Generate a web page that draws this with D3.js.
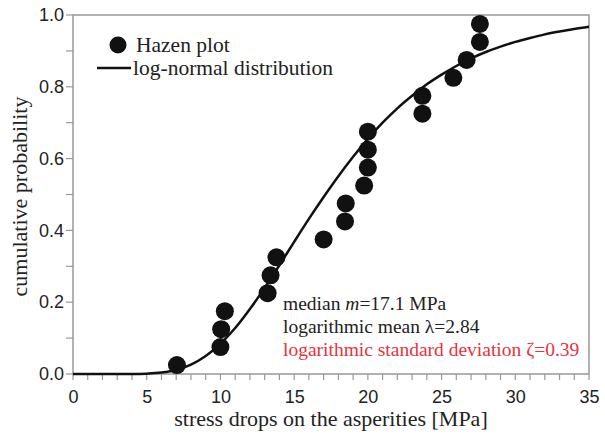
<!DOCTYPE html>
<meta charset="utf-8">
<style>
body { margin: 0; background: #fff; }
.tick text { font: 18px "Liberation Sans", Arial, sans-serif; fill: #222; }
.serif { font-family: "Liberation Serif", "Times New Roman", serif; fill: #222; }
</style>
<svg class="chart" width="605" height="435"></svg>
<script src="https://cdn.jsdelivr.net/npm/d3@7"></script>
<script>

// Hazen plot points (stress drop in MPa, plotting position)
var hazenStress = [7.05, 10.0, 10.05, 10.3, 13.2, 13.4, 13.8, 17.0, 18.45, 18.5,
                   19.75, 20.0, 20.0, 20.0, 23.7, 23.7, 25.8, 26.7, 27.6, 27.6]
var hazenProb = [0.025, 0.075, 0.125, 0.175, 0.225, 0.275, 0.325, 0.375, 0.425, 0.475,
                 0.525, 0.575, 0.625, 0.675, 0.725, 0.775, 0.825, 0.875, 0.925, 0.975]

// log-normal curve
var curveStress = [0, 4, 5, 6, 7, 8, 9, 10, 11, 12, 13, 14, 15, 16, 17, 18, 19, 20,
                   21, 22, 23, 24, 25, 26, 27, 28, 29, 30, 31, 32, 33, 34, 35]
var curveProb = [0, 0, 0.001, 0.004, 0.011, 0.026, 0.05, 0.084, 0.128, 0.181, 0.24,
                 0.303, 0.368, 0.432, 0.493, 0.551, 0.605, 0.655, 0.7, 0.74, 0.775,
                 0.807, 0.834, 0.858, 0.879, 0.897, 0.912, 0.925, 0.936, 0.946,
                 0.954, 0.961, 0.967]

var xTicks = [0, 5, 10, 15, 20, 25, 30, 35]
var yTicks = [0, 0.2, 0.4, 0.6, 0.8, 1.0]

var notes = ["median ", "logarithmic mean \u03bb=2.84", "logarithmic standard deviation \u03b6=0.39"]

var margin = {left: 73, right: 16, top: 15, bottom: 61},
    width = 605 - margin.left - margin.right,
    height = 435 - margin.top - margin.bottom

var chart = d3.select(".chart")
var g = chart.append("g")
    .attr("transform", "translate(" + margin.left + "," + margin.top + ")")

var x = d3.scaleLinear().domain([0, 35]).range([0, width])
var y = d3.scaleLinear().domain([0, 1]).range([height, 0])

// frame
g.append("rect")
    .attr("width", width)
    .attr("height", height)
    .style("fill", "none")
    .style("stroke", "#999")
    .style("stroke-width", 1.5)

// minor ticks
g.selectAll(".xminor")
    .data(d3.range(0, 36))
  .enter().append("line")
    .attr("x1", function(d) { return x(d) })
    .attr("x2", function(d) { return x(d) })
    .attr("y1", height)
    .attr("y2", height + 6)
    .style("stroke", "#999")
    .style("stroke-width", 1.2)

g.selectAll(".yminor")
    .data(d3.range(0, 11).map(function(i) { return i / 10 }))
  .enter().append("line")
    .attr("x1", -7)
    .attr("x2", 0)
    .attr("y1", function(d) { return y(d) })
    .attr("y2", function(d) { return y(d) })
    .style("stroke", "#999")
    .style("stroke-width", 1.2)

var xAxis = g.append("g")
    .attr("transform", "translate(0," + height + ")")
    .call(d3.axisBottom(x).tickValues(xTicks).tickSize(0).tickPadding(16).tickFormat(d3.format("d")))
xAxis.select(".domain").remove()

var yAxis = g.append("g")
    .call(d3.axisLeft(y).tickValues(yTicks).tickSize(0).tickPadding(9).tickFormat(d3.format(".1f")))
yAxis.select(".domain").remove()

// curve
var line = d3.line()
    .x(function(d) { return x(d[0]) })
    .y(function(d) { return y(d[1]) })
    .curve(d3.curveMonotoneX)

g.append("path")
    .datum(d3.zip(curveStress, curveProb))
    .attr("d", line)
    .style("fill", "none")
    .style("stroke", "#111")
    .style("stroke-width", 2.5)

// points
g.selectAll(".dot")
    .data(d3.zip(hazenStress, hazenProb))
  .enter().append("circle")
    .attr("cx", function(d) { return x(d[0]) })
    .attr("cy", function(d) { return y(d[1]) })
    .attr("r", 9)
    .style("fill", "#111")

// legend
chart.append("circle")
    .attr("cx", 118).attr("cy", 45).attr("r", 8.5)
    .style("fill", "#111")
chart.append("text").attr("class", "serif")
    .attr("x", 136).attr("y", 52)
    .style("font-size", "21.5px")
    .text("Hazen plot")
chart.append("line")
    .attr("x1", 97).attr("x2", 131).attr("y1", 68).attr("y2", 68)
    .style("stroke", "#111").style("stroke-width", 2.5)
chart.append("text").attr("class", "serif")
    .attr("x", 133).attr("y", 75)
    .style("font-size", "21.5px")
    .text("log-normal distribution")

// annotation
var n1 = chart.append("text").attr("class", "serif")
    .attr("x", 283).attr("y", 310).style("font-size", "19.5px")
n1.append("tspan").text(notes[0])
n1.append("tspan").style("font-style", "italic").text("m")
n1.append("tspan").text("=17.1 MPa")
chart.append("text").attr("class", "serif")
    .attr("x", 283).attr("y", 333).style("font-size", "19.5px")
    .text(notes[1])
chart.append("text").attr("class", "serif")
    .attr("x", 283).attr("y", 356).style("font-size", "19.5px")
    .style("fill", "#e8323c")
    .text(notes[2])

// axis titles
chart.append("text").attr("class", "serif")
    .attr("x", margin.left + width / 2).attr("y", 426)
    .attr("text-anchor", "middle")
    .style("font-size", "22px")
    .text("stress drops on the asperities [MPa]")
chart.append("text").attr("class", "serif")
    .attr("transform", "translate(27," + (margin.top + height / 2 + 2) + ") rotate(-90)")
    .attr("text-anchor", "middle")
    .style("font-size", "22px")
    .text("cumulative probability")

</script>
